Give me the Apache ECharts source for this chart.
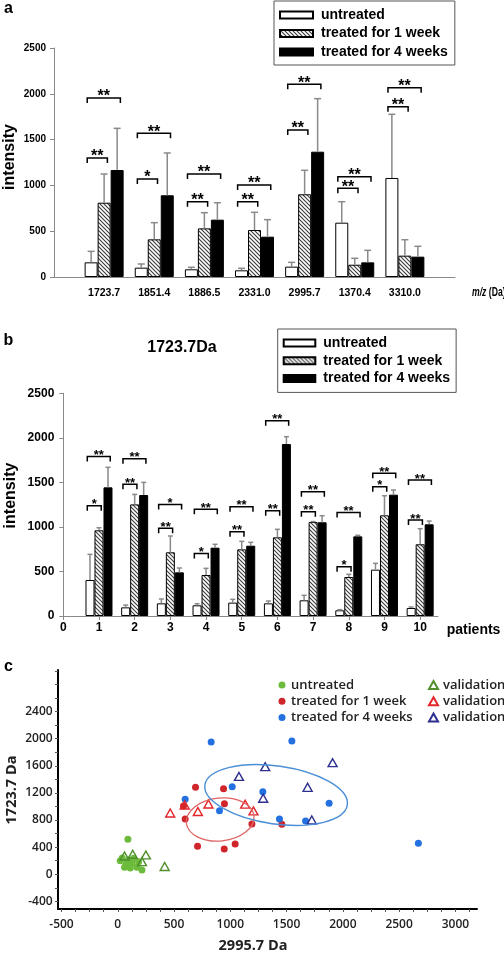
<!DOCTYPE html>
<html><head><meta charset="utf-8"><title>chart</title>
<script src="https://cdn.jsdelivr.net/npm/echarts@6.0.0/dist/echarts.min.js"></script>
<style>html,body{margin:0;padding:0;background:#fff;}#main{width:504px;height:954px;}</style>
</head><body><div id="main"></div>
<script>
// ---------------- Panel a data ----------------
const aCategories   = ['1723.7','1851.4','1886.5','2331.0','2995.7','1370.4','3310.0'];
const aUntreated    = [160, 102,  84,  73,  113, 593, 1081];
const aUntreatedTop = [280, 142, 106,  95,  160, 822, 1776];
const aWeek1        = [811, 411, 531, 513,  903, 134,  233];
const aWeek1Top     = [1124, 593, 702, 706, 1165, 204,  407];
const aWeek4        = [1168, 892, 626, 440, 1368, 160,  222];
const aWeek4Top     = [1623, 1354, 811, 626, 1947, 291,  335];
// [group (1-based), from bar, to bar, level, label]
const aBrackets = [
  [1,0,1,1299,'**'],[1,0,2,1954,'**'],
  [2,0,1,1070,'*'], [2,0,2,1569,'**'],
  [3,0,1,822,'**'], [3,0,2,1124,'**'],
  [4,0,1,822,'**'], [4,0,2,1004,'**'],
  [5,0,1,1605,'**'],[5,0,2,2104,'**'],
  [6,0,1,968,'**'], [6,0,2,1095,'**'],
  [7,0,1,1859,'**'],[7,0,2,2067,'**']
];

// ---------------- Panel b data ----------------
const bPatients     = ['1','2','3','4','5','6','7','8','9','10'];
const bUntreated    = [404,  97, 142, 120, 150, 142,  176,  64,  520,   90];
const bUntreatedTop = [692, 123, 191, 138, 187, 168,  232,  71,  591,  101];
const bWeek1        = [962, 1253, 715, 460, 748, 883, 1055, 438, 1130,  805];
const bWeek1Top     = [991, 1365, 898, 535, 838, 973, 1060, 468, 1350,  980];
const bWeek4        = [1444, 1358, 490, 767, 789, 1930, 1052, 894, 1362, 1029];
const bWeek4Top     = [1669, 1500, 539, 805, 827, 2013, 1126, 906, 1414, 1066];
const bBrackets = [
  [1,0,1,1238,'*'], [1,0,2,1790,'**'],
  [2,0,1,1478,'**'],[2,0,2,1765,'**'],
  [3,0,1,984,'**'], [3,0,2,1253,'*'],
  [4,0,1,703,'*'],  [4,0,2,1197,'**'],
  [5,0,1,946,'**'], [5,0,2,1227,'**'],
  [6,0,1,1182,'**'],[6,0,2,2192,'**'],
  [7,0,1,1171,'**'],[7,0,2,1395,'**'],
  [8,0,1,553,'*'],  [8,0,2,1163,'**'],
  [9,0,1,1451,'*'], [9,0,2,1602,'**'],
  [10,0,1,1077,'**'],[10,0,2,1526,'**']
];

// ---------------- Panel c data ----------------
const cUntreated = [[22,200],[90,516],[60,103],[126,162],[170,103],[215,63],[96,211],[140,236],[185,186],[75,152],[111,93],[40,240]];
const cWeek1 = [[691,1283],[940,1263],[948,1041],[584,1007],[599,816],[1192,742],[1458,738],[709,413],[1043,447],[946,373]];
const cWeek4 = [[830,1951],[1547,1966],[1017,1292],[1289,1218],[599,1106],[904,938],[1878,1047],[1437,816],[1669,786],[2671,457]];
const cValUntreated = [[60,270],[133,296],[250,285],[215,186],[417,115]];
const cValWeek1 = [[466,904],[595,1022],[712,926],[806,1037],[1132,1034],[1206,934]];
const cValWeek4 = [[1310,1587],[1077,1443],[1292,1121],[1909,1646],[1687,1283],[1724,801]];
// [centre x, centre y, semi-axis (x units), semi-axis (y units), tilt deg]
const cEllipseWeek1 = [[910, 808, 302, 317, 6]];
const cEllipseWeek4 = [[1407, 1170, 639, 428, -8]];
const cXLabels = [-500,0,500,1000,1500,2000,2500,3000];
const cYLabels = [-400,0,400,800,1200,1600,2000,2400];

// ---------------- helpers ----------------
const FA = '"Liberation Sans", Arial, sans-serif';
const FO = '"Open Sans", sans-serif';
const GRAY = '#8a8a8a';
const BWA = 13, BWB = 9;
const plain = v => String(v);

const hatch = (function(){
  const c = document.createElement('canvas'); c.width = 4; c.height = 4;
  const g = c.getContext('2d');
  g.fillStyle = '#fff'; g.fillRect(0,0,4,4);
  g.strokeStyle = '#3a3a3a'; g.lineWidth = 1.1;
  g.beginPath();
  g.moveTo(-1,-1); g.lineTo(5,5);
  g.moveTo(-1,3); g.lineTo(1,5);
  g.moveTo(3,-1); g.lineTo(5,1);
  g.stroke();
  return c;
})();

function padA(v){ return [null].concat(v, [null]); }
function padB(v){ const r = new Array(22).fill(null); v.forEach((x,i)=>{ r[2*(i+1)] = x; }); return r; }
const aCats = [''].concat(aCategories, ['']);
const bCats = []; for (let i = 0; i < 22; i++) bCats.push(i % 2 === 0 ? String(i/2) : '');

function errData(vals, tops, catOf){
  const out = [];
  vals.forEach((arr,b)=>arr.forEach((v,i)=>out.push([catOf(i), b, v, tops[b][i]])));
  return out;
}
function errRender(bw, cap){
  return function(params, api){
    const cat = api.value(0), b = api.value(1);
    const p0 = api.coord([cat, api.value(2)]), p1 = api.coord([cat, api.value(3)]);
    const x = p0[0] + (b-1)*bw;
    return {type:'group', children:[
      {type:'line', shape:{x1:x, y1:p0[1], x2:x, y2:p1[1]}, style:{stroke:GRAY, lineWidth:1.5}},
      {type:'line', shape:{x1:x-cap/2, y1:p1[1], x2:x+cap/2, y2:p1[1]}, style:{stroke:GRAY, lineWidth:1.5}}
    ]};
  };
}
function brRender(bw, list, fs, catOf){
  return function(params, api){
    const item = list[params.dataIndex];
    const cat = catOf(item[0]);
    const p = api.coord([cat, item[3]]);
    const xl = p[0] + (item[1]-1)*bw - 0.3*bw;
    const xr = p[0] + (item[2]-1)*bw + 0.25*bw;
    const y = p[1];
    return {type:'group', children:[
      {type:'polyline', shape:{points:[[xl,y+5],[xl,y],[xr,y],[xr,y+5]]}, style:{stroke:'#000', lineWidth:1.5, fill:null}},
      {type:'text', x:(xl+xr)/2, y:y-1, style:{text:item[4], fill:'#000', font:'bold '+fs+'px '+FA, align:'center', verticalAlign:'middle'}}
    ]};
  };
}
function ellRender(params, api){
  const c = api.coord([api.value(0), api.value(1)]);
  const rx = api.size([api.value(2), 0])[0];
  const ry = api.size([0, api.value(3)])[1];
  return {type:'ellipse', x:c[0], y:c[1], rotation: api.value(4)*Math.PI/180,
    shape:{cx:0, cy:0, rx:rx, ry:ry}, style:{fill:null}};
}

const catA = i => i + 1;          // index in aCats
const catB = i => 2*(i + 1);      // index in bCats
const catAg = g => g;             // group (1-based) -> index
const catBg = g => 2*g;

const cTicksX = []; for (let v = -500; v <= 3125; v += 125) cTicksX.push(v);
const cTicksY = []; for (let v = -400; v <= 3000; v += 200) cTicksY.push(v);

const nameMap = {'cU':'untreated','cW1':'treated for 1 week','cW4':'treated for 4 weeks','vU':'validation','vW1':'validation','vW4':'validation'};

const barStyle = [
  {color:'#fff', borderColor:'#000', borderWidth:1},
  {color:{image:hatch, repeat:'repeat'}, borderColor:'#000', borderWidth:1},
  {color:'#000', borderColor:'#000', borderWidth:1}
];
const names = ['untreated','treated for 1 week','treated for 4 weeks'];

const legendBar = (left, top, pad, w, lh, gap) => ({
  left:left, top:top, orient:'vertical', data:names, icon:'rect', itemWidth:w, itemHeight:7,
  itemGap:gap, borderColor:'#555', borderWidth:1, padding:pad, selectedMode:false,
  textStyle:{fontFamily:FA, fontWeight:'bold', fontSize:14, color:'#000', lineHeight:lh, padding:[0,0,0,3]}
});

const option = {
  animation:false,
  backgroundColor:'#fff',
  grid:[
    {left:54, top:48, width:401, height:229, outerBoundsMode:'none'},
    {left:63.3, top:393.3, width:374.7, height:222.7, outerBoundsMode:'none'},
    {left:58, top:670, width:419, height:239, outerBoundsMode:'none'}
  ],
  legend:[
    legendBar(274, 1, [6,7,5,5], 33, 16, 2.5),
    legendBar(277.7, 329, [6,6,6,5], 31.6, 16, 1.7),
    {left:278.5, top:677.5, orient:'vertical', data:['cU','cW1','cW4'], itemWidth:8, itemHeight:7, itemGap:1.3,
     selectedMode:false, formatter:n=>nameMap[n], padding:0,
     textStyle:{fontFamily:FO, fontWeight:600, fontSize:13, color:'#222', lineHeight:15}},
    {left:428, top:677.5, orient:'vertical', data:['vU','vW1','vW4'], itemWidth:9, itemHeight:8, itemGap:1.3,
     selectedMode:false, formatter:n=>nameMap[n], padding:0,
     textStyle:{fontFamily:FO, fontWeight:600, fontSize:13, color:'#222', lineHeight:15}}
  ],
  xAxis:[
    {gridIndex:0, type:'category', data:aCats, boundaryGap:false,
     axisLine:{lineStyle:{color:GRAY, width:1}}, axisTick:{show:false},
     axisLabel:{interval:0, margin:10.5, fontFamily:FA, fontWeight:'bold', fontSize:10.5, color:'#000'}},
    {gridIndex:1, type:'category', data:bCats, boundaryGap:false,
     axisLine:{lineStyle:{color:GRAY, width:1}},
     axisTick:{show:true, length:4, interval:(i)=>i%2===0, lineStyle:{color:GRAY}},
     axisLabel:{interval:0, margin:6, fontFamily:FA, fontWeight:'bold', fontSize:12, color:'#000'}},
    {gridIndex:2, type:'value', min:-531, max:3192, splitLine:{show:false},
     axisLine:{onZero:false, lineStyle:{color:'#000', width:2}},
     axisTick:{show:true, customValues:cTicksX, length:3, lineStyle:{color:'#555', width:1}},
     axisLabel:{customValues:cXLabels, formatter:plain, margin:9.5, fontFamily:FO, fontWeight:600, fontSize:12, color:'#222'}}
  ],
  yAxis:[
    {gridIndex:0, type:'value', min:0, max:2500, interval:500, splitLine:{show:false},
     axisLine:{show:true, lineStyle:{color:GRAY, width:1}}, axisTick:{show:true, length:4, lineStyle:{color:GRAY}},
     axisLabel:{formatter:plain, margin:8, fontFamily:FA, fontWeight:'bold', fontSize:10, color:'#000'}},
    {gridIndex:1, type:'value', min:0, max:2500, interval:500, splitLine:{show:false},
     axisLine:{show:true, lineStyle:{color:GRAY, width:1}}, axisTick:{show:true, length:4, lineStyle:{color:GRAY}},
     axisLabel:{formatter:plain, margin:9, fontFamily:FA, fontWeight:'bold', fontSize:12, color:'#000'}},
    {gridIndex:2, type:'value', min:-512, max:3013, splitLine:{show:false},
     axisLine:{show:true, onZero:false, lineStyle:{color:'#000', width:2}},
     axisTick:{show:true, customValues:cTicksY, length:3, lineStyle:{color:'#555', width:1}},
     axisLabel:{customValues:cYLabels, formatter:plain, margin:5.3, fontFamily:FO, fontWeight:600, fontSize:12, color:'#222'}}
  ],
  series:[]
};

const S = option.series;
[aUntreated, aWeek1, aWeek4].forEach((v,b)=>S.push({name:names[b], type:'bar', xAxisIndex:0, yAxisIndex:0,
  data:padA(v), barWidth:BWA, barGap:'0%', itemStyle:barStyle[b], emphasis:{disabled:true}, silent:true}));
[bUntreated, bWeek1, bWeek4].forEach((v,b)=>S.push({name:names[b], type:'bar', xAxisIndex:1, yAxisIndex:1,
  data:padB(v), barWidth:BWB, barGap:'0%', itemStyle:barStyle[b], emphasis:{disabled:true}, silent:true}));

S.push({type:'custom', xAxisIndex:0, yAxisIndex:0, renderItem:errRender(BWA, 7), clip:false, silent:true, z:3,
  encode:{x:0, y:3}, data:errData([aUntreated,aWeek1,aWeek4],[aUntreatedTop,aWeek1Top,aWeek4Top], catA)});
S.push({type:'custom', xAxisIndex:1, yAxisIndex:1, renderItem:errRender(BWB, 5), clip:false, silent:true, z:3,
  encode:{x:0, y:3}, data:errData([bUntreated,bWeek1,bWeek4],[bUntreatedTop,bWeek1Top,bWeek4Top], catB)});
S.push({type:'custom', xAxisIndex:0, yAxisIndex:0, renderItem:brRender(BWA, aBrackets, 16, catAg), clip:false, silent:true, z:4,
  encode:{x:0, y:3}, data:aBrackets.map(r=>[catAg(r[0]), r[1], r[2], r[3]])});
S.push({type:'custom', xAxisIndex:1, yAxisIndex:1, renderItem:brRender(BWB, bBrackets, 13, catBg), clip:false, silent:true, z:4,
  encode:{x:0, y:3}, data:bBrackets.map(r=>[catBg(r[0]), r[1], r[2], r[3]])});

// panel c
const dot = (name, data, col) => ({name:name, type:'scatter', xAxisIndex:2, yAxisIndex:2, data:data, symbol:'circle', symbolSize:7,
  itemStyle:{color:col, opacity:1}, emphasis:{disabled:true}, silent:true, z:5});
const tri = (name, data, col) => ({name:name, type:'scatter', xAxisIndex:2, yAxisIndex:2, data:data, symbol:'triangle', symbolSize:[9,8],
  itemStyle:{color:'rgba(255,255,255,0)', borderColor:col, borderWidth:1.4, opacity:1}, emphasis:{disabled:true}, silent:true, z:6});
S.push(dot('cU', cUntreated, '#6cbb3c'));
S.push(dot('cW1', cWeek1, '#d0262b'));
S.push(dot('cW4', cWeek4, '#2370e0'));
S.push(tri('vU', cValUntreated, '#4f8f2c'));
S.push(tri('vW1', cValWeek1, '#e3262a'));
S.push(tri('vW4', cValWeek4, '#2d2f8f'));
S.push({type:'custom', xAxisIndex:2, yAxisIndex:2, clip:false, silent:true, z:7, encode:{x:0, y:1}, data:cEllipseWeek1,
  renderItem: function(p, api){ const e = ellRender(p, api); e.style = {fill:null, stroke:'#e06464', lineWidth:1.3}; return e; }});
S.push({type:'custom', xAxisIndex:2, yAxisIndex:2, clip:false, silent:true, z:7, encode:{x:0, y:1}, data:cEllipseWeek4,
  renderItem: function(p, api){ const e = ellRender(p, api); e.style = {fill:null, stroke:'#4b8fd6', lineWidth:1.4}; return e; }});

option.graphic = [
  {type:'text', x:8.5, y:8.5, style:{text:'a', font:'bold 16px '+FA, fill:'#000', align:'center', verticalAlign:'middle'}},
  {type:'text', x:8.5, y:340.5, style:{text:'b', font:'bold 16px '+FA, fill:'#000', align:'center', verticalAlign:'middle'}},
  {type:'text', x:8.5, y:666.5, style:{text:'c', font:'bold 16px '+FA, fill:'#000', align:'center', verticalAlign:'middle'}},
  {type:'text', x:9.5, y:157, rotation:Math.PI/2, style:{text:'intensity', font:'bold 16px '+FA, fill:'#000', align:'center', verticalAlign:'middle'}},
  {type:'text', x:11, y:495.5, rotation:Math.PI/2, style:{text:'intensity', font:'bold 16px '+FA, fill:'#000', align:'center', verticalAlign:'middle'}},
  {type:'text', x:472, y:293, scaleX:0.72, style:{text:'{i|m/z} (Da)', font:'bold 12px '+FA, fill:'#000', align:'left', verticalAlign:'middle',
     rich:{i:{fontStyle:'italic', fontWeight:'bold', fontSize:12, fontFamily:FA, fill:'#000'}}}},
  {type:'text', x:182, y:348, style:{text:'1723.7Da', font:'bold 16px '+FA, fill:'#000', align:'center', verticalAlign:'middle'}},
  {type:'text', x:446.7, y:630, style:{text:'patients', font:'bold 14px '+FA, fill:'#000', align:'left', verticalAlign:'middle'}},
  {type:'text', x:12, y:790, rotation:Math.PI/2, style:{text:'1723.7 Da', font:'bold 14.5px '+FO, fill:'#222', align:'center', verticalAlign:'middle'}},
  {type:'text', x:253, y:946, style:{text:'2995.7 Da', font:'bold 14.5px '+FO, fill:'#222', align:'center', verticalAlign:'middle'}}
];

const chart = echarts.init(document.getElementById('main'), null, {renderer:'canvas', width:504, height:954});
chart.setOption(option);
</script>
</body></html>
